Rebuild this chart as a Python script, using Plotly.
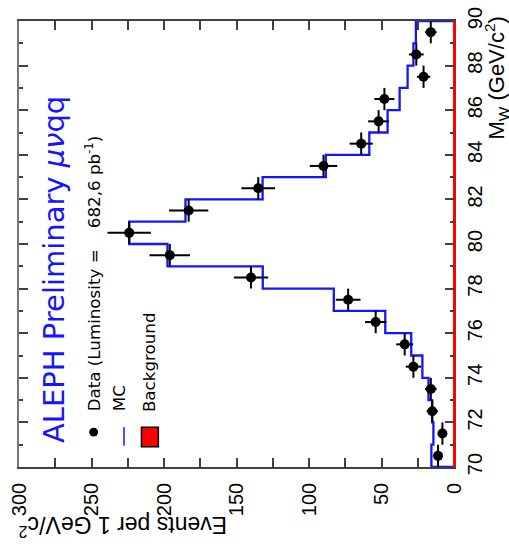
import numpy as np
import plotly.graph_objects as go

# ---- data ----
mw_edges = [70, 71, 72, 73, 74, 75, 76, 77, 78, 79, 80, 81, 82, 83, 84, 85, 86, 87, 88, 89, 90]
data_counts = [11, 8, 15, 16, 28, 34, 54, 73, 140, 196, 224, 183, 135, 90, 64, 52, 48, 21, 26, 16]
mc_counts = [15.6, 14.2, 15.1, 17.6, 21.8, 29.5, 47.4, 82.9, 131.9, 197.6,
             224.0, 185.2, 132.0, 88.4, 58.4, 45.8, 37.5, 32.0, 28.0, 26.3]
bkg_counts = [0] * 20
events_ticks = [0, 50, 100, 150, 200, 250, 300]
mw_ticks = [70, 72, 74, 76, 78, 80, 82, 84, 86, 88, 90]

edges = np.array(mw_edges, dtype=float)
centers = 0.5 * (edges[:-1] + edges[1:])
half_w = 0.5 * np.diff(edges)
counts = np.array(data_counts, dtype=float)


def step_path(vals):
    xs, ys = [0.0], [edges[0]]
    for i, v in enumerate(vals):
        xs += [v, v]
        ys += [edges[i], edges[i + 1]]
    xs.append(0.0)
    ys.append(edges[-1])
    return xs, ys


# plot area in pixels
L, R, T, B = 17, 454, 7, 467
W, H = 509, 560


def px(x):
    return (x - L) / (R - L)


def py(y):
    return (B - y) / (B - T)


fig = go.Figure()

mx, my = step_path(mc_counts)
fig.add_trace(go.Scatter(x=mx, y=my, mode="lines",
                         line=dict(color="#1414ff", width=2.3), hoverinfo="skip"))

bx, by = step_path(bkg_counts)
fig.add_trace(go.Scatter(x=bx, y=by, mode="lines", yaxis="y2",
                         line=dict(color="#ff0000", width=2), hoverinfo="skip"))

fig.add_trace(go.Scatter(
    x=counts, y=centers, mode="markers",
    marker=dict(color="black", size=10),
    error_x=dict(type="data", array=np.sqrt(counts), color="black", thickness=2, width=0),
    error_y=dict(type="data", array=half_w, color="black", thickness=2, width=0),
    cliponaxis=False,
))

tickfont = dict(family="Liberation Sans, Arial, sans-serif", size=20, color="black")
axcol = "#404040"

fig.update_layout(
    width=W, height=H,
    margin=dict(l=L, r=W - R, t=T, b=H - B),
    paper_bgcolor="white", plot_bgcolor="white",
    showlegend=False,
    xaxis=dict(range=[300, 0], tickvals=events_ticks, ticks="inside", ticklen=9,
               tickwidth=1.5, tickcolor=axcol, showline=True, linecolor=axcol,
               linewidth=1.5, mirror="allticks", tickangle=-90, tickfont=tickfont,
               showgrid=False, zeroline=False, ticklabelstandoff=6,
               ticklabeloverflow="allow",
               minor=dict(dtick=25, tick0=0, ticks="inside", ticklen=4,
                          tickcolor=axcol, tickwidth=1.5, showgrid=False)),
    yaxis=dict(range=[70, 90], side="right", tickvals=mw_ticks, ticks="inside",
               ticklen=9, tickwidth=1.5, tickcolor=axcol, showline=True,
               linecolor="#ff0000", linewidth=1.5, tickangle=-90, tickfont=tickfont,
               showgrid=False, zeroline=False, ticklabelstandoff=2,
               ticklabeloverflow="allow",
               minor=dict(dtick=1, tick0=70, ticks="inside", ticklen=4,
                          tickcolor=axcol, tickwidth=1.5, showgrid=False)),
    yaxis2=dict(range=[70, 90], overlaying="y", side="left", tickvals=mw_ticks,
                ticks="inside", ticklen=9, tickwidth=1.5, tickcolor=axcol,
                showline=True, linecolor="#777777", linewidth=1.5,
                showticklabels=False, showgrid=False, zeroline=False,
                minor=dict(dtick=1, tick0=70, ticks="inside", ticklen=4,
                           tickcolor=axcol, tickwidth=1.5, showgrid=False)),
)

leg_font = dict(family="DejaVu Sans, sans-serif", size=16.7, color="black")
annots = [
    dict(text="ALEPH Preliminary <i>\u03bc\u03bd</i>qq", x=px(52), y=py(444),
         xanchor="center", yanchor="bottom", textangle=-90,
         font=dict(family="DejaVu Sans, sans-serif", size=29, color="#1414ff")),
    dict(text="Data (Luminosity =\u00a0\u00a0\u00a0 682,6 pb<sup>-1</sup>)", x=px(91), y=py(412),
         xanchor="center", yanchor="bottom", textangle=-90, font=leg_font),
    dict(text="MC", x=px(117), y=py(412),
         xanchor="center", yanchor="bottom", textangle=-90, font=leg_font),
    dict(text="Background", x=px(147), y=py(412),
         xanchor="center", yanchor="bottom", textangle=-90, font=leg_font),
    dict(text="Events per 1 GeV/c<sup>2</sup>", x=px(122), y=py(528),
         xanchor="center", yanchor="middle", textangle=180,
         font=dict(family="Liberation Sans, Arial, sans-serif", size=23, color="black")),
    dict(text="M<sub>W</sub> (GeV/c<sup>2</sup>)", x=px(497), y=py(131),
         xanchor="center", yanchor="bottom", textangle=-90,
         font=dict(family="Liberation Sans, Arial, sans-serif", size=22, color="black")),
]
for a in annots:
    a.update(xref="paper", yref="paper", showarrow=False)
fig.update_layout(annotations=annots)

shapes = [
    dict(type="circle", x0=px(87.5), x1=px(96.5), y0=py(435.5), y1=py(426.5),
         fillcolor="black", line=dict(color="black", width=0)),
    dict(type="line", x0=px(122.5), x1=px(122.5), y0=py(445), y1=py(426),
         line=dict(color="#1414ff", width=1.5)),
    dict(type="rect", x0=px(140), x1=px(157), y0=py(446), y1=py(426),
         fillcolor="#ff0000", line=dict(color="black", width=1.5)),
]
for s in shapes:
    s.update(xref="paper", yref="paper")
fig.update_layout(shapes=shapes)

fig.write_html("out.html")
